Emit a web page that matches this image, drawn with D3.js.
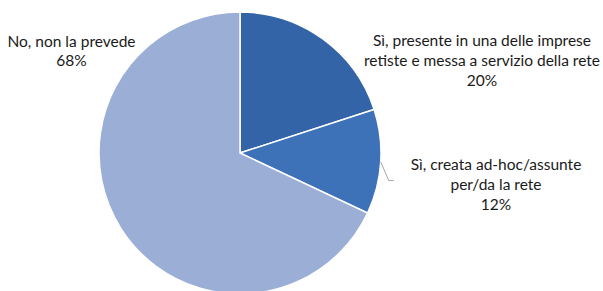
<!DOCTYPE html>
<html><head><meta charset="utf-8">
<script src="https://cdn.jsdelivr.net/npm/d3@7"></script>
<style>body{margin:0;background:#fff;} text{font-family:"Lato","Open Sans",sans-serif;}</style>
</head><body>
<svg id="c" width="603" height="291"></svg>
<script>
const categories = ["Sì, presente in una delle imprese retiste e messa a servizio della rete", "Sì, creata ad-hoc/assunte per/da la rete", "No, non la prevede"];
const values = [20, 12, 68];
const labelLines = [["Sì, presente in una delle imprese", "retiste e messa a servizio della rete", "20%"], ["Sì, creata ad-hoc/assunte", "per/da la rete", "12%"], ["No, non la prevede", "68%"]];
const colors = ["#3464a8", "#3d71b8", "#9aaed6"];

const svg = d3.select("#c");
const cx = 240, cy = 153, r = 141;
const g = svg.append("g").attr("transform", `translate(${cx},${cy})`);
const pie = d3.pie().sort(null).value(d => d);
const arcs = pie(values);
const arc = d3.arc().innerRadius(0).outerRadius(r);
g.selectAll("path").data(arcs).enter().append("path")
  .attr("d", arc).attr("fill", (d, i) => colors[i])
  .attr("stroke", "#fff").attr("stroke-width", 1.5);

// leader line for the 12% slice
const a = arcs[1];
const mid = (a.startAngle + a.endAngle) / 2;
const p0 = [cx + Math.sin(mid) * r, cy - Math.cos(mid) * r];
svg.append("polyline")
  .attr("points", [p0, [p0[0] + 8, 180.5], [p0[0] + 13, 180.5]].map(p => p.join(",")).join(" "))
  .attr("fill", "none").attr("stroke", "#a6a6a6").attr("stroke-width", 1);

const labelPos = [[482, 46], [496, 170], [71.5, 46.5]];
const lh = 20;
labelLines.forEach((lines, i) => {
  const t = svg.append("text").attr("text-anchor", "middle").attr("font-size", 15.5).attr("fill", "#1a1a1a");
  lines.forEach((l, j) => t.append("tspan").attr("x", labelPos[i][0]).attr("y", labelPos[i][1] + j * (i === 2 ? 19 : lh)).text(l));
});
</script>
</body></html>
